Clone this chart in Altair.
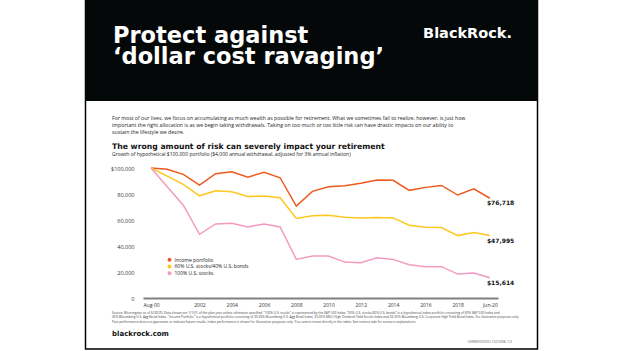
import altair as alt
import pandas as pd

periods = ["Aug-00", "2000", "2001", "2002", "2003", "2004", "2005", "2006", "2007",
           "2008", "2009", "2010", "2011", "2012", "2013", "2014", "2015", "2016",
           "2017", "2018", "2019", "Jun-20"]
tick_labels = ["Aug-00", "2002", "2004", "2006", "2008", "2010", "2012", "2014",
               "2016", "2018", "Jun-20"]
series_names = ["Income portfolio", "60% U.S. stocks/40% U.S. bonds", "100% U.S. stocks"]
colors = ["#EE5A1E", "#FFC71F", "#F49AC1"]

income = [100000, 99000, 95100, 86900, 95600, 97100, 93000, 96700, 92500, 70700, 82000,
          85600, 86300, 88200, 90700, 90500, 82800, 85100, 86600, 79200, 84000, 76718]
balanced = [100000, 93800, 87400, 78600, 82500, 81700, 78100, 78400, 77100, 61200, 63200,
            63700, 62200, 61600, 61900, 61600, 56000, 54400, 54200, 48000, 50300, 47995]
stocks = [100000, 85600, 71400, 49000, 57000, 57500, 54700, 57000, 54700, 29700, 32300,
          32300, 27600, 27200, 31000, 29700, 25600, 24100, 24100, 18400, 19200, 15614]

y_ticks = [0, 20000, 40000, 60000, 80000, 100000]

body_lines = [
    "For most of our lives, we focus on accumulating as much wealth as possible for retirement. What we sometimes fail to realize, however, is just how",
    "important the right allocation is as we begin taking withdrawals. Taking on too much or too little risk can have drastic impacts on our ability to",
    "sustain the lifestyle we desire.",
]
heading = "The wrong amount of risk can severely impact your retirement"
subtitle = "Growth of hypothetical $100,000 portfolio ($4,000 annual withdrawal, adjusted for 3% annual inflation)"
source_lines = [
    'Source: Morningstar as of 6/30/20. Data shown are 1/1/01 of the plan year unless otherwise specified. "100% U.S. stocks" is represented by the S&P 500 Index. "60% U.S. stocks/40% U.S. bonds" is a hypothetical index portfolio consisting of 60% S&P 500 Index and',
    '40% Bloomberg U.S. Agg Bond Index. "Income Portfolio" is a hypothetical portfolio consisting of 33.33% Bloomberg U.S. Agg Bond Index, 33.33% MSCI High Dividend Yield Stocks Index and 33.33% Bloomberg U.S. Corporate High Yield Bond Index. For illustrative purposes only.',
    'Past performance does not guarantee or indicate future results. Index performance is shown for illustrative purposes only. You cannot invest directly in the index. See reverse side for scenario explanations.',
]

rows = []
for name, vals in zip(series_names, [income, balanced, stocks]):
    for i, (p, v) in enumerate(zip(periods, vals)):
        rows.append({"series": name, "period": p, "idx": i, "value": v,
                     "label": "${:,}".format(v)})
df = pd.DataFrame(rows)

one = alt.Data(values=[{}])


def txt(s, x, y, size, weight="normal", color="#222222", font="Open Sans",
        align="left", baseline="middle"):
    return alt.Chart(one).mark_text(
        text=s, fontSize=size, fontWeight=weight, color=color, font=font,
        align=align, baseline=baseline
    ).encode(x=alt.value(x), y=alt.value(y))


border = alt.Chart(one).mark_rect(fillOpacity=0, stroke="black", strokeWidth=1.5).encode(
    x=alt.value(-57.5), x2=alt.value(394.5), y=alt.value(-170), y2=alt.value(181))
header = alt.Chart(one).mark_rect(color="#050808").encode(
    x=alt.value(-58), x2=alt.value(395), y=alt.value(-170), y2=alt.value(-67))

texts = [
    txt("Protect against", -30, -125.5, 22.5, "bold", "white", "DejaVu Sans", baseline="alphabetic"),
    txt("\u2018dollar cost ravaging\u2019", -30, -104, 22.5, "bold", "white", "DejaVu Sans", baseline="alphabetic"),
    txt("BlackRock.", 369, -130, 14.5, "bold", "white", "DejaVu Sans", align="right", baseline="alphabetic"),
    txt(body_lines[0], -31, -50, 5.2),
    txt(body_lines[1], -31, -43, 5.2),
    txt(body_lines[2], -31, -36, 5.2),
    txt(heading, -31, -21, 7.7, "bold", "#111111", "DejaVu Sans"),
    txt(subtitle, -31, -14, 5.0),
    txt(source_lines[0], -31, 145, 3.2, color="#444444"),
    txt(source_lines[1], -31, 149.3, 3.2, color="#444444"),
    txt(source_lines[2], -31, 153.6, 3.2, color="#444444"),
    txt("blackrock.com", -31, 166, 7, "bold", "#111111", "DejaVu Sans"),
    txt("USRMH0920U-1327498-1/2", 369, 174, 3.5, color="#666666", align="right"),
]

x_axis = alt.Axis(values=tick_labels, labelAngle=0, ticks=False,
                  domainColor="#808080", domainWidth=2, labelFontSize=5,
                  labelColor="#333333", labelPadding=4, title=None,
                  labelFont="Open Sans", zindex=1, labelOverlap=False,
                  labelBound=False, labelFlush=False)
y_axis = alt.Axis(values=y_ticks,
                  labelExpr="datum.value == 100000 ? '$100,000' : format(datum.value, ',')",
                  domain=False, ticks=False, grid=False, title=None,
                  labelPadding=9, labelFontSize=5.5, labelColor="#333333",
                  labelFont="Open Sans", zindex=1, labelOverlap=False,
                  labelBound=False, labelFlush=False)
x_scale = alt.Scale(type="point", padding=0.5)
y_scale = alt.Scale(domain=[0, 100000], nice=False)

lines = alt.Chart(df).mark_line(strokeWidth=1.5).encode(
    x=alt.X("period:O", sort=periods, scale=x_scale, axis=x_axis),
    y=alt.Y("value:Q", scale=y_scale, axis=y_axis),
    color=alt.Color("series:N",
                    scale=alt.Scale(domain=series_names, range=colors),
                    legend=alt.Legend(orient="none", legendX=24, legendY=89, title=None,
                                      symbolType="circle", symbolSize=4,
                                      symbolStrokeWidth=2, labelFontSize=5,
                                      labelFont="Open Sans", labelColor="#222222",
                                      rowPadding=0.7, clipHeight=5.5,
                                      labelOffset=2.5, padding=0)),
    order="idx:Q",
)

end_labels = alt.Chart(df).transform_filter(
    alt.datum.period == "Jun-20"
).mark_text(align="left", baseline="middle", dx=-3, dy=5, fontSize=6,
            fontWeight="bold", font="DejaVu Sans", color="#111111").encode(
    x=alt.X("period:O", sort=periods, scale=x_scale, axis=x_axis),
    y=alt.Y("value:Q", scale=y_scale, axis=y_axis),
    text="label:N")

chart = alt.layer(border, header, *texts, lines, end_labels).properties(
    width=355, height=130,
    padding={"left": 143, "top": 168, "right": 126, "bottom": 53},
    autosize=alt.AutoSizeParams(type="none"),
    background="white",
).configure_view(stroke=None).configure_axis(labelOverlap=False)

chart.save("out.html", embed_options={"renderer": "svg", "actions": False})
